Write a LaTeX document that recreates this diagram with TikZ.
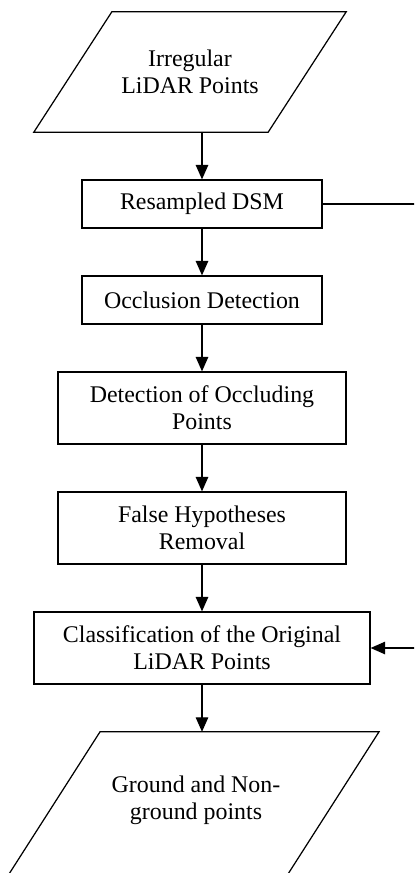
\documentclass[tikz,border=0pt]{standalone}
\usepackage{fontspec}
\setmainfont{Liberation Serif}
\usetikzlibrary{arrows.meta}

\begin{document}
\begin{tikzpicture}[
        procbox/.style={draw, line width=1.4pt, align=center, inner sep=0pt},
        iotext/.style={align=center, inner sep=0pt},
        flow/.style={line width=1.4pt, -{Triangle[length=0.58cm, width=0.5cm]}},
        every node/.style={font=\fontsize{27.2pt}{30.4pt}\selectfont}]
        \path[use as bounding box, clip] (0cm, 0cm) rectangle (16.560000cm, -34.920000cm);
        \node (lidar) [iotext, minimum width=6.24cm, minimum height=4.8cm] at (7.600000cm, -2.880000cm) {Irregular\\LiDAR Points};
        \node (dsm) [procbox, minimum width=9.6cm, minimum height=1.92cm] at (8.080000cm, -8.160000cm) {Resampled DSM};
        \node (occ) [procbox, minimum width=9.6cm, minimum height=1.92cm] at (8.080000cm, -12.000000cm) {Occlusion Detection};
        \node (occpts) [procbox, minimum width=11.52cm, minimum height=2.88cm] at (8.080000cm, -16.320000cm) {Detection of Occluding\\Points};
        \node (fhr) [procbox, minimum width=11.52cm, minimum height=2.88cm] at (8.080000cm, -21.120000cm) {False Hypotheses\\Removal};
        \node (cls) [procbox, minimum width=13.44cm, minimum height=2.88cm] at (8.080000cm, -25.920000cm) {Classification of the Original\\LiDAR Points};
        \node (ground) [iotext, minimum height=5.44cm] at (7.840000cm, -32.000000cm) {Ground and Non-\\ground points};
        \coordinate (fb) at (17.200000cm, -8.160000cm);
        % parallelograms
        \draw [line width=1.4pt] (lidar.north west) -- ([xshift=3.12cm]lidar.north east)
                -- (lidar.south east) -- ([xshift=-3.12cm]lidar.south west) -- cycle;
        \draw [line width=1.4pt] ([xshift=-3.84cm]ground.north) -- ([xshift=7.32cm]ground.north)
                -- ++(-4.3cm, -6.72cm) -- ++(-11.16cm, 0cm) -- cycle;
        % flow
        \draw [flow] (lidar.south -| dsm.north) -- (dsm.north);
        \draw [flow] (dsm) -- (occ);
        \draw [flow] (occ) -- (occpts);
        \draw [flow] (occpts) -- (fhr);
        \draw [flow] (fhr) -- (cls);
        \draw [flow] (cls.south) -- (cls.south |- ground.north);
        \draw [flow] (dsm.east) -- (fb) |- (cls.east);
\end{tikzpicture}
\end{document}
